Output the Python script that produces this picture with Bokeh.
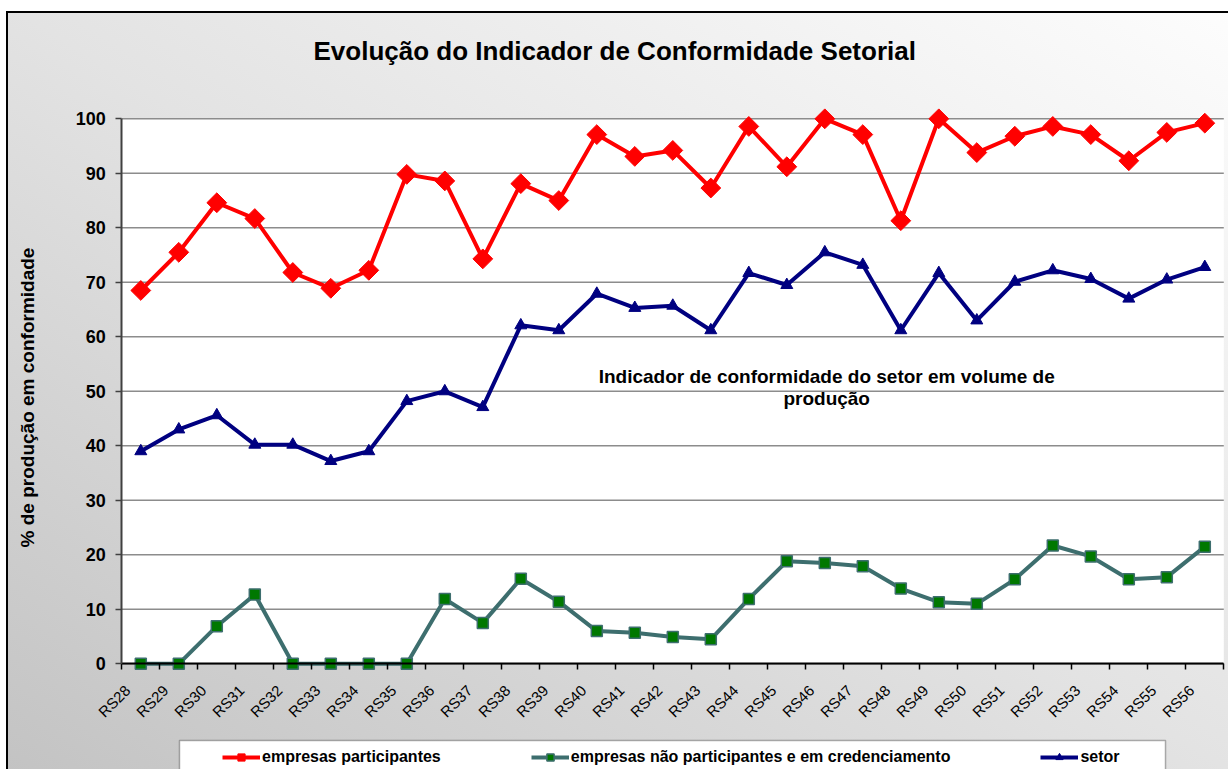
import math
from bokeh.plotting import figure
from bokeh.models import Range1d, FixedTicker, Label, Legend, LegendItem, BoxAnnotation
from bokeh.embed import file_html
from bokeh.resources import INLINE

# ---------------- data ----------------
categories = ["RS28", "RS29", "RS30", "RS31", "RS32", "RS33", "RS34", "RS35", "RS36", "RS37",
              "RS38", "RS39", "RS40", "RS41", "RS42", "RS43", "RS44", "RS45", "RS46", "RS47",
              "RS48", "RS49", "RS50", "RS51", "RS52", "RS53", "RS54", "RS55", "RS56"]
participantes = [68.5, 75.5, 84.6, 81.7, 71.8, 68.9, 72.2, 89.8, 88.6, 74.3,
                 88.1, 85.0, 97.1, 93.1, 94.2, 87.3, 98.6, 91.2, 100.0, 97.1,
                 81.3, 100.0, 93.8, 96.8, 98.6, 97.1, 92.3, 97.5, 99.2]
nao_participantes = [0.0, 0.0, 6.9, 12.7, 0.0, 0.0, 0.0, 0.0, 11.9, 7.5,
                     15.6, 11.4, 6.0, 5.7, 4.9, 4.5, 11.9, 18.8, 18.5, 17.9,
                     13.8, 11.3, 11.0, 15.5, 21.7, 19.7, 15.5, 15.9, 21.5]
setor = [39.0, 43.0, 45.6, 40.2, 40.2, 37.2, 39.0, 48.2, 50.0, 47.1,
         62.1, 61.2, 67.9, 65.3, 65.7, 61.2, 71.7, 69.5, 75.5, 73.2,
         61.2, 71.7, 63.0, 70.1, 72.2, 70.6, 67.0, 70.5, 72.8]
y_ticks = [0, 10, 20, 30, 40, 50, 60, 70, 80, 90, 100]
series_names = ["empresas participantes",
                "empresas não participantes e em credenciamento",
                "setor"]
title_text = "Evolução do Indicador de Conformidade Setorial"
y_title = "% de produção em conformidade"
note_lines = ["Indicador de conformidade do setor em volume de", "produção"]

FONT = "Liberation Sans"
n = len(categories)
xs = [i + 0.5 for i in range(n)]
label_pos = [i + 0.15 for i in range(n)]   # Excel anchors the slanted labels left of centre

# layout (pixels): the frame covers the whole 1228 x 769 canvas; plot area inside it
W, H = 1228, 769
PA_LEFT, PA_RIGHT = 121.3, 1223.3
PA_TOP, PA_BOT = 118.3, 663.3
ppx = (PA_RIGHT - PA_LEFT) / n
ppu = (PA_BOT - PA_TOP) / 100.0
x_lo = -PA_LEFT / ppx
x_hi = n + (W - PA_RIGHT) / ppx
y_lo = -(H - PA_BOT) / ppu
y_hi = 100 + PA_TOP / ppu

p = figure(frame_width=W, frame_height=H, title=None,
           x_range=Range1d(x_lo, x_hi), y_range=Range1d(y_lo, y_hi),
           output_backend="svg", toolbar_location=None,
           min_border_left=0, min_border_right=0, min_border_top=0, min_border_bottom=0,
           background_fill_color=None, border_fill_color=None, outline_line_color=None)
p.styles = {"background": ("linear-gradient(#000000, #000000) 6px 11px / 2px 100% no-repeat, "
                           "linear-gradient(#000000, #000000) 6px 11px / 100% 2px no-repeat, "
                           "linear-gradient(#ffffff, #ffffff) 0px 0px / 100% 11px no-repeat, "
                           "linear-gradient(#ffffff, #ffffff) 0px 0px / 6px 100% no-repeat, "
                           "linear-gradient(to bottom left, #fdfdfd 0%, #e3e3e3 50%, #c3c3c3 100%)")}

# white plot area and horizontal gridlines
p.add_layout(BoxAnnotation(left=0, right=n, bottom=0, top=100, fill_color="white",
                           fill_alpha=1.0, line_color=None, level="image"))
p.xgrid.visible = False
p.ygrid.visible = False
p.segment(x0=[0] * len(y_ticks), x1=[n] * len(y_ticks), y0=y_ticks, y1=y_ticks,
          line_color="#8c8c8c", line_width=1.5, level="underlay")

# x axis at value 0
xa = p.xaxis[0]
xa.fixed_location = 0
xa.bounds = (0, n)
xa.ticker = FixedTicker(ticks=label_pos, minor_ticks=list(range(0, n + 1)))
xa.major_label_overrides = {x: c for x, c in zip(label_pos, categories)}
xa.major_label_orientation = math.pi / 4
xa.major_tick_in = 0
xa.major_tick_out = 0
xa.minor_tick_in = 0
xa.minor_tick_out = 6
xa.minor_tick_line_color = "black"
xa.minor_tick_line_width = 1.5
xa.axis_line_color = "black"
xa.axis_line_width = 2
xa.major_label_text_font = FONT
xa.major_label_text_font_size = "15px"
xa.major_label_text_color = "black"
xa.major_label_standoff = 18

# y axis at category position 0
ya = p.yaxis[0]
ya.fixed_location = 0
yt = FixedTicker(ticks=y_ticks, minor_ticks=[])
ya.ticker = yt
ya.bounds = (0, 100)
ya.major_tick_in = 0
ya.major_tick_out = 6
ya.minor_tick_out = 0
ya.major_tick_line_color = "#404040"
ya.major_tick_line_width = 1.5
ya.axis_line_color = "#404040"
ya.axis_line_width = 2
ya.major_label_text_font = FONT
ya.major_label_text_font_size = "18px"
ya.major_label_text_font_style = "bold"
ya.major_label_text_color = "black"
ya.major_label_standoff = 10

# series
r1l = p.line(xs, participantes, line_color="#ff0000", line_width=4)
r1m = p.scatter(xs, participantes, marker="square", angle=math.pi / 4, size=14,
                fill_color="#ff0000", line_color="#ff0000")
r2l = p.line(xs, nao_participantes, line_color="#3d6e6e", line_width=4)
r2m = p.scatter(xs, nao_participantes, marker="square", size=11,
                fill_color="#007800", line_color="#3d6e6e", line_width=1.5)
r3l = p.line(xs, setor, line_color="#000080", line_width=4)
r3m = p.scatter(xs, setor, marker="triangle", size=12,
                fill_color="#000080", line_color="#000080")

# legend frame (wider than the entries, as in the original), then the legend
p.add_layout(BoxAnnotation(left=179, right=1165, bottom=-3, top=H - 740,
                           left_units="screen", right_units="screen",
                           bottom_units="screen", top_units="screen",
                           fill_color="white", fill_alpha=1.0,
                           line_color="black", line_width=1.5))
legend = Legend(items=[LegendItem(label=series_names[0], renderers=[r1l, r1m]),
                       LegendItem(label=series_names[1], renderers=[r2l, r2m]),
                       LegendItem(label=series_names[2], renderers=[r3l, r3m])],
                location=(222, 3), orientation="horizontal",
                glyph_width=38, glyph_height=18, label_height=18, label_standoff=2,
                spacing=90, padding=5, margin=0,
                border_line_color=None, background_fill_alpha=0.0,
                label_text_font=FONT, label_text_font_size="16px",
                label_text_font_style="bold", label_text_color="black")
p.add_layout(legend)

# title and y-axis title (screen units, measured from the canvas bottom-left)
p.add_layout(Label(x=313, y=H - 50, x_units="screen", y_units="screen",
                   text=title_text, text_align="left", text_baseline="middle",
                   text_font=FONT, text_font_size="26px", text_font_style="bold",
                   text_color="black"))
p.add_layout(Label(x=27, y=H - 397, x_units="screen", y_units="screen", angle=math.pi / 2,
                   text=y_title, text_align="center", text_baseline="middle",
                   text_font=FONT, text_font_size="19px", text_font_style="bold",
                   text_color="black"))

# note inside the plot
p.add_layout(Label(x=18.55, y=52.7, text=note_lines[0], text_align="center",
                   text_baseline="middle", text_font=FONT, text_font_size="19px",
                   text_font_style="bold", text_color="black"))
p.add_layout(Label(x=18.55, y=48.6, text=note_lines[1], text_align="center",
                   text_baseline="middle", text_font=FONT, text_font_size="19px",
                   text_font_style="bold", text_color="black"))

open("out.html", "w").write(file_html(p, INLINE))
